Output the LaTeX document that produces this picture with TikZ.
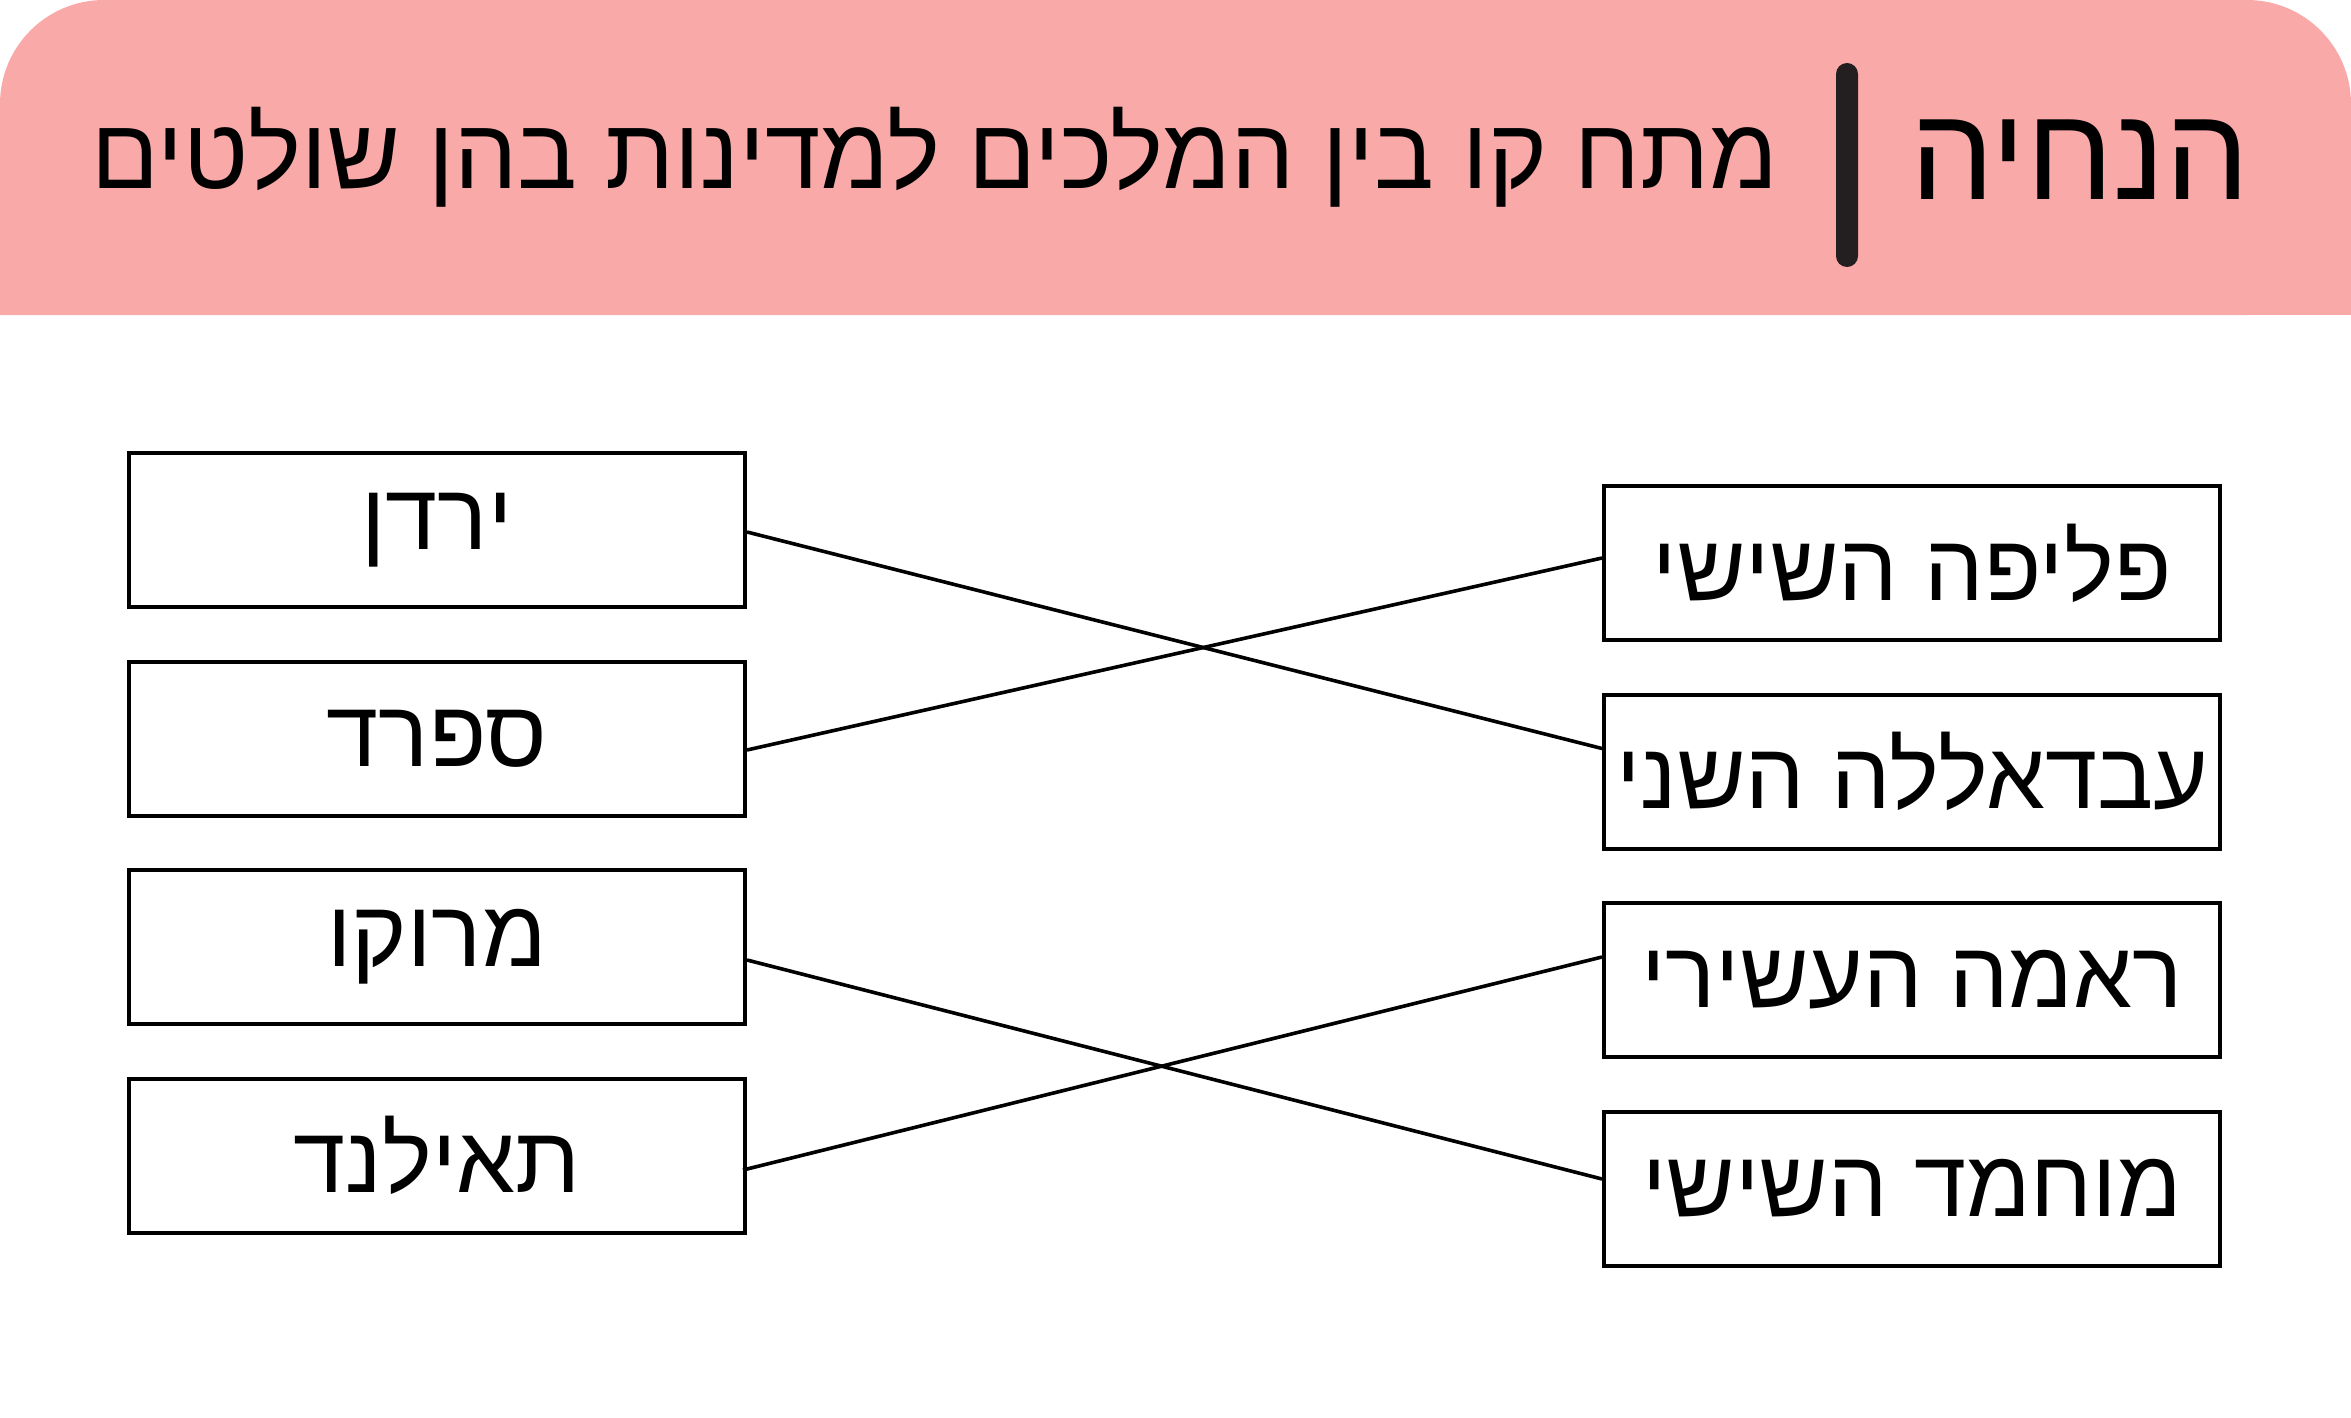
\documentclass[tikz,border=0pt]{standalone}
\usepackage{fontspec}
\usetikzlibrary{calc}
\TeXXeTstate=1
\newfontfamily\hebfont[Script=Hebrew]{Liberation Sans}
\definecolor{headpink}{RGB}{249,169,168}
\definecolor{bardark}{RGB}{35,31,32}
\tikzset{
  matchbox/.style={draw=black, line width=2pt, minimum width=308pt, minimum height=77pt, inner sep=0pt, font=\hebfont\fontsize{47}{56}\selectfont},
  link/.style={line width=1.8pt, black},
}
\begin{document}
\begin{tikzpicture}[x=0.5pt,y=-0.5pt]
\useasboundingbox (0,0) rectangle (2351,1418);
% header
\fill[headpink, rounded corners=52pt] (0,315) -- (0,0) -- (2351,0) -- (2351,315) [sharp corners] -- cycle;
\fill[headpink] (0,200) rectangle (2351,315);
\node[fill=bardark, rounded corners=5.5pt, minimum width=11pt, minimum height=102pt, inner sep=0pt] (bar) at (1847,165) {};
\node[anchor=base, font=\hebfont\fontsize{66.5}{76}\selectfont] (title) at (2080,199) {\beginR הנחיה\endR};
\node[anchor=base, font=\hebfont\fontsize{50}{58}\selectfont] (instr) at (935,189) {\beginR מתח קו בין המלכים למדינות בהן שולטים\endR};
% left boxes
\node[matchbox] (jordan) at (437,530) {\beginR ירדן\endR};
\node[matchbox] (spain) at (437,738.5) {\beginR ספרד\endR};
\node[matchbox] (morocco) at (437,947) {\beginR מרוקו\endR};
\node[matchbox] (thailand) at (437,1155.5) {\beginR תאילנד\endR};
% right boxes
\node[matchbox] (felipe) at (1912,563) {\beginR פליפה השישי\endR};
\node[matchbox] (abdullah) at (1912,771.5) {\beginR עבדאללה השני\endR};
\node[matchbox] (rama) at (1912,980) {\beginR ראמה העשירי\endR};
\node[matchbox] (mohammed) at (1912,1188.5) {\beginR מוחמד השישי\endR};
% connectors
\draw[link] ($(jordan.east)+(0,2)$) -- ($(abdullah.west)+(0,-23)$);
\draw[link] ($(spain.east)+(0,11.5)$) -- ($(felipe.west)+(0,-5)$);
\draw[link] ($(morocco.east)+(0,13)$) -- ($(mohammed.west)+(0,-9.5)$);
\draw[link] ($(thailand.east)+(-4,14.5)$) -- ($(rama.west)+(0,-23)$);
\end{tikzpicture}
\end{document}
